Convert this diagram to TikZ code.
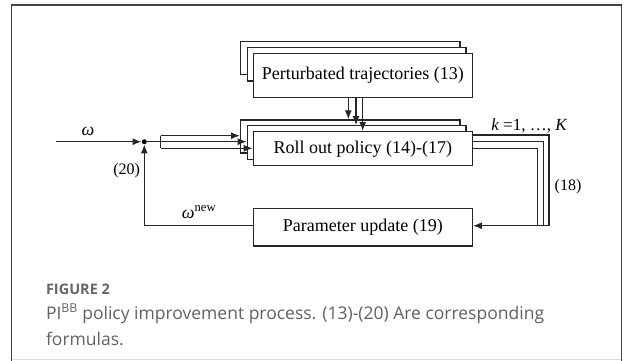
\documentclass[tikz,border=0pt]{standalone}
\usepackage{fontspec}
\setmainfont{Liberation Serif}
\newfontfamily\capfont{Open Sans}
\usetikzlibrary{arrows.meta}
\definecolor{framegray}{HTML}{444444}
\definecolor{capgray}{HTML}{606060}
\definecolor{labgray}{HTML}{666666}
\definecolor{faint}{HTML}{DDDDDD}
\tikzset{
  blk/.style={draw=black!85, fill=white, line width=1.3pt, inner sep=0pt, font=\fontsize{18}{20}\selectfont},
  wire/.style={draw=black!85, line width=1.3pt},
  arr/.style={wire, -{Latex[length=9pt,width=7pt]}},
  lab/.style={font=\fontsize{16}{18}\selectfont, inner sep=0pt},
}
\begin{document}
\begin{tikzpicture}[x=1pt,y=-1pt]
\useasboundingbox (0,0) rectangle (624,360);
% frame
\draw[faint, line width=1pt] (11.5,359) -- (621.5,359);
\draw[framegray, line width=1.3pt] (11.5,362) -- (11.5,5) -- (621.5,5) -- (621.5,362);

% perturbated trajectories stack
\node[blk, minimum width=219.3pt, minimum height=32.6pt] (pb) at (350.35,58) {};
\node[blk, minimum width=218.7pt, minimum height=33.7pt] (pm) at (356.65,64.15) {};
\node[blk, minimum width=219pt, minimum height=44.4pt] (pf) at (362.8,75.5) {Perturbated trajectories (13)};

% roll out stack
\node[blk, minimum width=219.3pt, minimum height=33pt] (rb) at (350.35,136.5) {};
\node[blk, minimum width=218.7pt, minimum height=33.8pt] (rm) at (356.65,142.6) {};
\node[blk, minimum width=219pt, minimum height=34pt] (rf) at (362.8,148.7) {Roll out policy (14)-(17)};

% parameter update
\node[blk, minimum width=219pt, minimum height=37.7pt] (pu) at (362.8,227.2) {Parameter update (19)};

% summing dot and input
\node[circle, fill=black, inner sep=0pt, minimum size=5pt] (dot) at (144.3,141.7) {};
\coordinate (in) at (56,141.7);
\draw[arr] (in) -- (dot.west);

% split into three
\coordinate (sp) at (160.7,141.7);
\coordinate (spt) at (160.7,135.7);
\coordinate (spb) at (160.7,148.3);
\draw[wire] (dot) -- (sp);
\draw[wire] (spt) -- (spb);
\draw[arr] (spt) -- (spt -| rb.west);
\draw[arr] (sp) -- (sp -| rm.west);
\draw[arr] (spb) -- (spb -| rf.west);

% down arrows
\coordinate (d1) at (348.3,0);
\coordinate (d2) at (356,0);
\coordinate (d3) at (362.7,0);
\draw[arr] (pf.south -| d1) -- (rb.north -| d1);
\draw[arr] (pf.south -| d2) -- (rm.north -| d2);
\draw[arr] (pf.south -| d3) -- (rf.north -| d3);

% outputs
\coordinate (o1) at (549,135);
\coordinate (o2) at (543.3,141.7);
\coordinate (o3) at (537.7,148.3);
\coordinate (ob) at (549,225.7);
\draw[wire] (rf.east |- o1) -- (o1) -- (o1 |- ob);
\draw[wire] (rf.east |- o2) -- (o2) -- (o2 |- ob);
\draw[wire] (rf.east |- o3) -- (o3) -- (o3 |- ob);
\draw[arr] (ob) -- (ob -| pu.east);

% feedback
\coordinate (fb) at (144.3,225.7);
\draw[arr] (pu.west |- fb) -- (fb) -- (dot.south);

% labels
\node[lab, font=\fontsize{18}{20}\selectfont] (lw) at (88,131) {\itshape ω};
\node[lab] (l20) at (126.7,171) {(20)};
\node[lab, font=\fontsize{18}{20}\selectfont] (lnew) at (199,212) {\itshape ω\textsuperscript{\upshape new}};
\node[lab, font=\fontsize{17}{19}\selectfont] (lk) at (529,126) {\itshape k\upshape\ =1, …, \itshape K};
\node[lab] (l18) at (568,187) {(18)};

% caption
\node[anchor=base west, inner sep=0pt, text=labgray, font=\capfont\bfseries\fontsize{14.5}{16}\selectfont] (fig) at (45.8,294) {FIGURE 2};
\node[anchor=base west, inner sep=0pt, text=capgray, font=\capfont\fontsize{17.5}{29}\selectfont] (cap1) at (45.8,319) {PI\textsuperscript{BB} policy improvement process. (13)-(20) Are corresponding};
\node[anchor=base west, inner sep=0pt, text=capgray, font=\capfont\fontsize{17.5}{29}\selectfont] (cap2) at (45.8,345) {formulas.};
\end{tikzpicture}
\end{document}
